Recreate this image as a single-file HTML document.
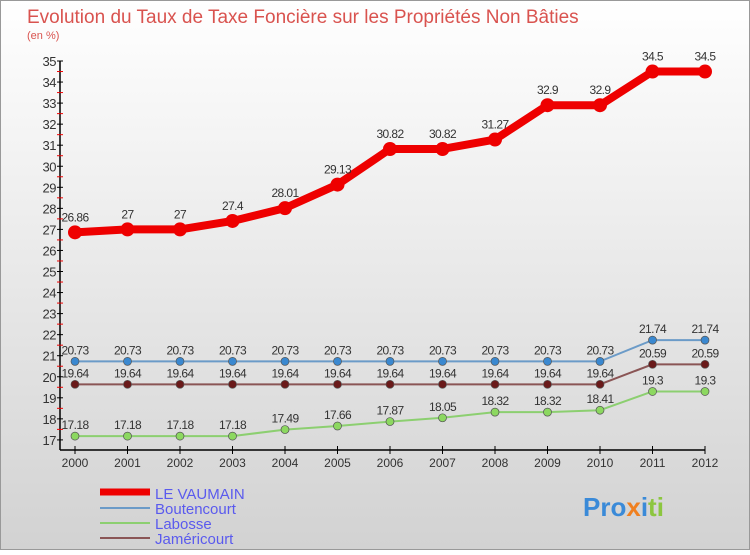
<!DOCTYPE html>
<html><head><meta charset="utf-8"><style>
html,body{margin:0;padding:0}
body{width:750px;height:550px;overflow:hidden;font-family:"Liberation Sans",sans-serif}
</style></head><body>
<svg id="chart" width="750" height="550" xmlns="http://www.w3.org/2000/svg">
<defs><linearGradient id="bg" x1="0" y1="0" x2="0" y2="1"><stop offset="0" stop-color="#ffffff"/><stop offset="1" stop-color="#d2d2d2"/></linearGradient></defs>
<rect x="0.5" y="0.5" width="749" height="549" fill="url(#bg)" stroke="#999"/>
<text x="27" y="23" font-size="19" fill="#d9534f">Evolution du Taux de Taxe Foncière sur les Propriétés Non Bâties</text>
<text x="27" y="39" font-size="11" fill="#d9534f">(en %)</text>
<g id="axes"></g><g id="series"></g>
<g>
<line x1="100" y1="492" x2="150" y2="492" stroke="#e00" stroke-width="7"/>
<text x="155" y="499" font-size="15" fill="#5a5aee">LE VAUMAIN</text>
<line x1="100" y1="508" x2="150" y2="508" stroke="#6b9bc8" stroke-width="2"/>
<text x="155" y="514" font-size="15" fill="#5a5aee">Boutencourt</text>
<line x1="100" y1="523" x2="150" y2="523" stroke="#8ccf70" stroke-width="2"/>
<text x="155" y="529" font-size="15" fill="#5a5aee">Labosse</text>
<line x1="100" y1="538" x2="150" y2="538" stroke="#8a5555" stroke-width="2"/>
<text x="155" y="544" font-size="15" fill="#5a5aee">Jaméricourt</text>
</g>
<text x="583" y="516" font-size="26" font-weight="bold" fill="#3a8ad8">Pro<tspan fill="#f08020">x</tspan><tspan fill="#3a8ad8">i</tspan><tspan fill="#8cc63f">ti</tspan></text>
</svg>
<script>
const years=[2000,2001,2002,2003,2004,2005,2006,2007,2008,2009,2010,2011,2012];
const vaumain=[26.86,27,27,27.4,28.01,29.13,30.82,30.82,31.27,32.9,32.9,34.5,34.5];
const boutencourt=[20.73,20.73,20.73,20.73,20.73,20.73,20.73,20.73,20.73,20.73,20.73,21.74,21.74];
const labosse=[17.18,17.18,17.18,17.18,17.49,17.66,17.87,18.05,18.32,18.32,18.41,19.3,19.3];
const jamericourt=[19.64,19.64,19.64,19.64,19.64,19.64,19.64,19.64,19.64,19.64,19.64,20.59,20.59];
const yTicks=[17,18,19,20,21,22,23,24,25,26,27,28,29,30,31,32,33,34,35];
const NS="http://www.w3.org/2000/svg";
const x=i=>75+i*52.5;
const y=v=>61+(35-v)*21.05;
function mk(tag,attrs,parent){const e=document.createElementNS(NS,tag);for(const k in attrs)e.setAttribute(k,attrs[k]);parent.appendChild(e);return e;}
const ax=document.getElementById('axes');
let e=mk('line',{x1:60,y1:y(35),x2:60,y2:450,stroke:'#000','stroke-width':1.5},ax);


e=mk('line',{x1:60,y1:450,x2:x(12),y2:450,stroke:'#000','stroke-width':1.5},ax);


yTicks.forEach(t=>{
  mk('line',{x1:57,y1:y(t),x2:63,y2:y(t),stroke:'#000'},ax);
  if(t<35)mk('line',{x1:57,y1:y(t+0.5),x2:63,y2:y(t+0.5),stroke:'#e00'},ax);
  const tx=mk('text',{x:56,y:y(t)+5,'font-size':13,fill:'#333','text-anchor':'end','letter-spacing':'-0.5'},ax);
  tx.textContent=t;
  
  
});
years.forEach((yr,i)=>{
  mk('line',{x1:x(i),y1:446,x2:x(i),y2:454,stroke:'#000'},ax);
  const tx=mk('text',{x:x(i),y:467,'font-size':12,fill:'#333','text-anchor':'middle'},ax);
  tx.textContent=yr;
  
  
});
const sg=document.getElementById('series');
function draw(data,color,w,r,name,fill){
  const g=mk('g',{},sg);
  
  
  const p=mk('polyline',{points:data.map((v,i)=>x(i)+','+y(v)).join(' '),fill:'none',stroke:color,'stroke-width':w,'stroke-linejoin':'round'},g);
  
  
  data.forEach((v,i)=>{
    const c=mk('circle',{cx:x(i),cy:y(v),r:r,fill:fill,stroke:'#555','stroke-width':r>5?0:0.7},g);
    
    
    const t=mk('text',{x:x(i),y:y(v)-(r>5?11:7),'font-size':12,fill:'#333','text-anchor':'middle','letter-spacing':'-0.6'},g);
    t.textContent=String(v);
    
    
  });
}
draw(labosse,'#8ccf70',2,4,'labosse','#8cd860');
draw(jamericourt,'#8a5555',2,4,'jamericourt','#6a1a1a');
draw(boutencourt,'#6b9bc8',2,4,'boutencourt','#3a88d0');
draw(vaumain,'#e00',8,7,'le-vaumain','#e00');
</script>
</body></html>
